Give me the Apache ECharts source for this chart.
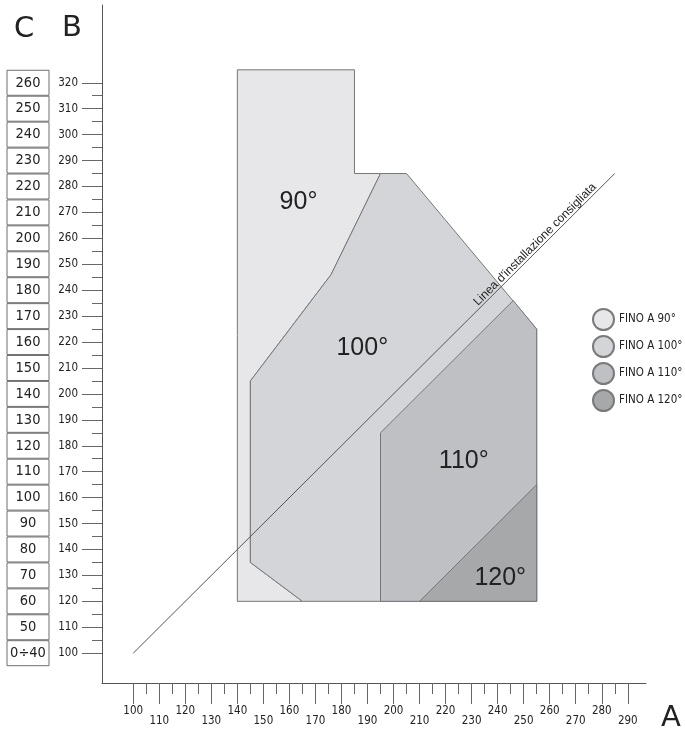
<!DOCTYPE html>
<html>
<head>
<meta charset="utf-8">
<title>Linea d'installazione consigliata</title>
<script src="https://cdn.jsdelivr.net/npm/echarts@6.0.0/dist/echarts.min.js"></script>
<style>
    html, body { margin: 0; padding: 0; background: #fff; }
    #chart { width: 685px; height: 731px; }
</style>
</head>
<body>
<div id="chart"></div>
<script>
// scala A (orizzontale)
var aMajor = [100, 110, 120, 130, 140, 150, 160, 170, 180, 190, 200, 210, 220, 230, 240, 250, 260, 270, 280, 290];
var aMinor = [105, 115, 125, 135, 145, 155, 165, 175, 185, 195, 205, 215, 225, 235, 245, 255, 265, 275, 285];
var aLabelAlte = [100, 120, 140, 160, 180, 200, 220, 240, 260, 280];
var aLabelBasse = [110, 130, 150, 170, 190, 210, 230, 250, 270, 290];

// scala B (verticale) e scala C corrispondente
var bMajor = [100, 110, 120, 130, 140, 150, 160, 170, 180, 190, 200, 210, 220, 230, 240, 250, 260, 270, 280, 290, 300, 310, 320];
var bMinor = [105, 115, 125, 135, 145, 155, 165, 175, 185, 195, 205, 215, 225, 235, 245, 255, 265, 275, 285, 295, 305, 315];
var cLabel = ['0÷40', '50', '60', '70', '80', '90', '100', '110', '120', '130', '140', '150', '160', '170', '180', '190', '200', '210', '220', '230', '240', '250', '260'];

// zone (A, B)
var zona90 = [[140, 120], [140, 325], [185, 325], [185, 285], [195, 285], [176, 246], [145, 205], [145, 135], [165, 120]];
var zona100 = [[165, 120], [145, 135], [145, 205], [176, 246], [195, 285], [205, 285], [255, 225], [255, 120]];
var zona110 = [[195, 120], [195, 185], [246, 236], [255, 225], [255, 120]];
var zona120 = [[210, 120], [255, 165], [255, 120]];

var nomiZone = ['FINO A 90°', 'FINO A 100°', 'FINO A 110°', 'FINO A 120°'];
var etichetteZone = ['90°', '100°', '110°', '120°'];
var puntiEtichette = [[163.5, 274], [188, 217.5], [227, 174], [241, 129]];
var coloriZone = ['#e7e7e9', '#d3d5d8', '#bec0c3', '#a7a8aa'];

// linea d'installazione consigliata
var linea = [[100, 100], [285, 285]];
var puntoTestoLinea = [256, 256];

var fontTick = '"DejaVu Sans Condensed", "DejaVu Sans", sans-serif';

function zona(i, punti) {
    return {
        name: nomiZone[i],
        type: 'custom',
        data: punti,
        itemStyle: { color: coloriZone[i], borderColor: '#7a7a7a', borderWidth: 1 },
        z: 2 + i,
        silent: true,
        renderItem: function (params, api) {
            if (params.dataIndex !== 0) return null;
            var pts = punti.map(function (p) { return api.coord(p); });
            var c = api.coord(puntiEtichette[i]);
            return {
                type: 'group',
                children: [
                    { type: 'polygon', shape: { points: pts }, style: { fill: coloriZone[i], stroke: '#777', lineWidth: 1 } },
                    { type: 'text', x: c[0], y: c[1], style: { text: etichetteZone[i], fill: '#222', font: '25px "Liberation Sans", Arial, sans-serif', align: 'center', verticalAlign: 'middle' } }
                ]
            };
        }
    };
}

var chart = echarts.init(document.getElementById('chart'));
var option = {
    animation: false,
    grid: { left: 102, right: 39, top: 5, bottom: 48, outerBoundsMode: 'none' },
    legend: {
        orient: 'vertical',
        left: 587,
        top: 303,
        itemWidth: 21,
        itemHeight: 21,
        itemGap: 4,
        icon: 'circle',
        selectedMode: false,
        data: nomiZone,
        textStyle: { fontSize: 11.5, color: '#222', fontFamily: fontTick }
    },
    graphic: [
        { type: 'text', x: 24, y: 29, style: { text: 'C', font: '29px "DejaVu Sans", sans-serif', fill: '#222', align: 'center', verticalAlign: 'middle' } },
        { type: 'text', x: 72, y: 28, style: { text: 'B', font: '29px "DejaVu Sans", sans-serif', fill: '#222', align: 'center', verticalAlign: 'middle' } },
        { type: 'text', x: 671, y: 718, style: { text: 'A', font: '29px "DejaVu Sans", sans-serif', fill: '#222', align: 'center', verticalAlign: 'middle' } }
    ],
    xAxis: [
        {
            type: 'value', position: 'bottom', min: 88, max: 297,
            splitLine: { show: false },
            axisLine: { show: true, lineStyle: { color: '#555' } },
            axisTick: { show: true, length: 21, customValues: aMajor, lineStyle: { color: '#666' } },
            axisLabel: { customValues: aLabelAlte, margin: 22, fontSize: 11.5, color: '#222', fontFamily: fontTick }
        },
        {
            type: 'value', position: 'bottom', min: 88, max: 297,
            splitLine: { show: false },
            axisLine: { show: false },
            axisTick: { show: true, length: 11, customValues: aMinor, lineStyle: { color: '#666' } },
            axisLabel: { customValues: aLabelBasse, margin: 32, fontSize: 11.5, color: '#222', fontFamily: fontTick }
        }
    ],
    yAxis: [
        {
            type: 'value', position: 'left', min: 88.5, max: 350,
            splitLine: { show: false },
            axisLine: { show: true, lineStyle: { color: '#555' } },
            axisTick: { show: true, length: 20, customValues: bMajor, lineStyle: { color: '#666' } },
            axisLabel: { customValues: bMajor, margin: 24, fontSize: 11.5, color: '#222', fontFamily: fontTick }
        },
        {
            type: 'value', position: 'left', min: 88.5, max: 350,
            splitLine: { show: false },
            axisLine: { show: false },
            axisTick: { show: true, length: 10, customValues: bMinor, lineStyle: { color: '#666' } },
            axisLabel: { show: false }
        },
        {
            type: 'value', position: 'left', min: 88.5, max: 350,
            splitLine: { show: false },
            axisLine: { show: false },
            axisTick: { show: false },
            axisLabel: {
                customValues: bMajor,
                formatter: function (v) { return cLabel[bMajor.indexOf(v)]; },
                margin: 74,
                align: 'center',
                verticalAlign: 'middle',
                width: 42,
                height: 25,
                lineHeight: 25,
                borderColor: '#6f6f6f',
                borderWidth: 1,
                fontSize: 14.5,
                color: '#222',
                fontFamily: fontTick
            }
        }
    ],
    series: [
        zona(0, zona90),
        zona(1, zona100),
        zona(2, zona110),
        zona(3, zona120),
        {
            type: 'line',
            data: linea,
            symbol: 'none',
            silent: true,
            z: 8,
            lineStyle: { color: '#555', width: 1 }
        },
        {
            type: 'custom',
            data: [puntoTestoLinea],
            silent: true,
            z: 9,
            renderItem: function (params, api) {
                var c = api.coord([api.value(0), api.value(1)]);
                return {
                    type: 'text', x: c[0], y: c[1], rotation: Math.PI / 4,
                    style: { text: "Linea d'installazione consigliata", fill: '#222', font: '12px "Liberation Sans", Arial, sans-serif', align: 'center', verticalAlign: 'bottom' }
                };
            }
        }
    ]
};
chart.setOption(option);
</script>
</body>
</html>
